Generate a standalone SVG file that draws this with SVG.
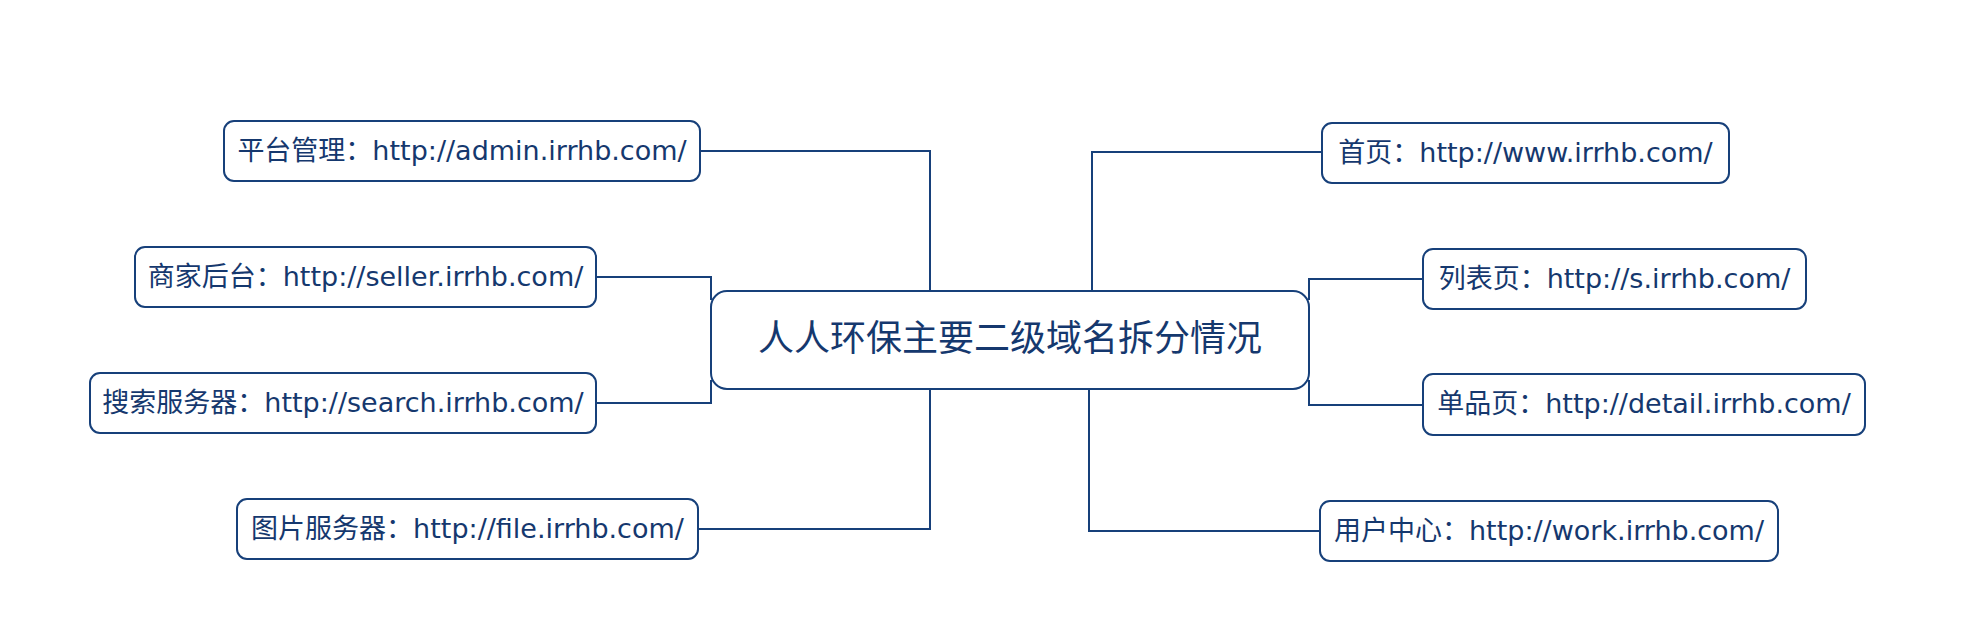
<svg xmlns="http://www.w3.org/2000/svg" width="1964" height="620" viewBox="0 0 1964 620">
<style>
.box{fill:#ffffff;stroke:#17407a;stroke-width:2}
.con{fill:none;stroke:#17407a;stroke-width:2}
.leaf{font-family:"DejaVu Sans","Noto Sans CJK SC",sans-serif;font-size:27px;fill:#15386e;text-anchor:middle}
.root{font-family:"Noto Sans CJK SC",sans-serif;font-size:36px;fill:#15386e;text-anchor:middle}
</style>
<rect width="1964" height="620" fill="#ffffff"/>
<g id="connectors">
<path class="con" d="M700,151 H930 V291"/>
<path class="con" d="M596,277 H711 V300"/>
<path class="con" d="M596,403 H711 V380"/>
<path class="con" d="M698,529 H930 V389"/>
<path class="con" d="M1322,152 H1092 V291"/>
<path class="con" d="M1423,279 H1309 V300"/>
<path class="con" d="M1423,405 H1309 V380"/>
<path class="con" d="M1320,531 H1089 V389"/>
</g>
<g id="root">
<rect class="box" x="711" y="291" width="598" height="98" rx="16"/>
<text class="root" x="1010" y="351">人人环保主要二级域名拆分情况</text>
</g>
<g id="n-admin">
<rect class="box" x="224" y="121" width="476" height="60" rx="10"/>
<text class="leaf" x="462" y="160">平台管理：http://admin.irrhb.com/</text>
</g>
<g id="n-seller">
<rect class="box" x="135" y="247" width="461" height="60" rx="10"/>
<text class="leaf" x="365.5" y="286">商家后台：http://seller.irrhb.com/</text>
</g>
<g id="n-search">
<rect class="box" x="90" y="373" width="506" height="60" rx="10"/>
<text class="leaf" x="343" y="412">搜索服务器：http://search.irrhb.com/</text>
</g>
<g id="n-file">
<rect class="box" x="237" y="499" width="461" height="60" rx="10"/>
<text class="leaf" x="467.5" y="538">图片服务器：http://file.irrhb.com/</text>
</g>
<g id="n-www">
<rect class="box" x="1322" y="123" width="407" height="60" rx="10"/>
<text class="leaf" x="1525.5" y="162">首页：http://www.irrhb.com/</text>
</g>
<g id="n-list">
<rect class="box" x="1423" y="249" width="383" height="60" rx="10"/>
<text class="leaf" x="1614.5" y="288">列表页：http://s.irrhb.com/</text>
</g>
<g id="n-detail">
<rect class="box" x="1423" y="374" width="442" height="61" rx="10"/>
<text class="leaf" x="1644" y="413">单品页：http://detail.irrhb.com/</text>
</g>
<g id="n-work">
<rect class="box" x="1320" y="501" width="458" height="60" rx="10"/>
<text class="leaf" x="1549" y="540">用户中心：http://work.irrhb.com/</text>
</g>
</svg>
